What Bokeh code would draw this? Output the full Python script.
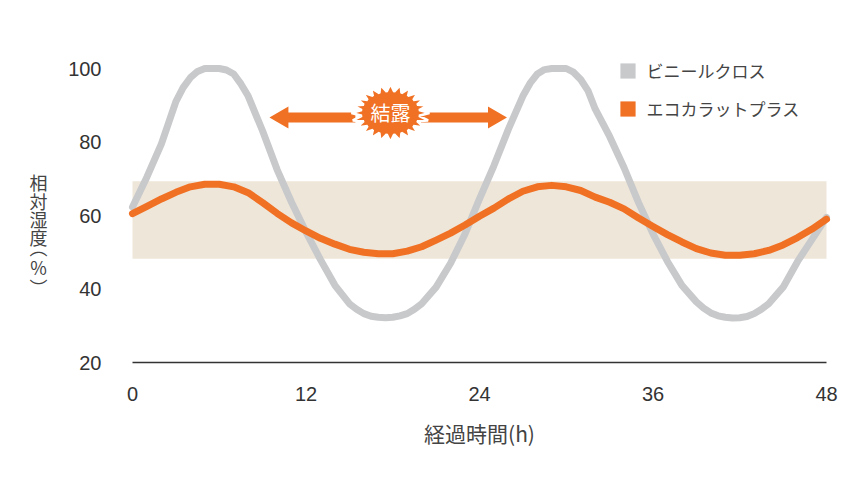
import math
from bokeh.plotting import figure
from bokeh.models import Range1d, FixedTicker, BoxAnnotation, Label, Legend, LegendItem
from bokeh.embed import file_html
from bokeh.resources import INLINE

# ---------------- data ----------------
vinyl_hours = [0, 1, 2, 3, 3.5, 4, 4.5, 5, 6, 6.5, 7, 7.5, 8, 9, 10, 11, 12, 13, 14,
               15, 15.5, 16, 16.5, 17, 17.5, 18, 18.5, 19, 19.5, 20, 21, 22, 23, 24,
               25, 26, 27, 27.5, 28, 28.5, 29, 30, 30.5, 31, 31.5, 32, 33, 34, 35,
               36, 37, 38, 39, 39.5, 40, 40.5, 41, 41.5, 42, 42.5, 43, 43.5, 44,
               45, 46, 47, 48]
vinyl_cloth = [62.3, 70.5, 79.5, 91.0, 94.8, 97.5, 99.2, 100.0, 100.0, 99.6, 98.5, 95.8, 92.5,
               83.0, 72.5, 63.6, 55.5, 48.0, 41.0,
               36.0, 34.5, 33.3, 32.6, 32.3, 32.2, 32.3, 32.7, 33.3, 34.5, 36.0,
               40.5, 47.0, 55.0, 64.5, 73.6, 83.5, 92.5, 96.0, 98.5, 99.7, 100.0,
               100.0, 99.0, 97.0, 94.0, 89.0, 81.5, 73.0, 63.5, 55.0, 47.5, 41.0,
               36.5, 34.8, 33.5, 32.7, 32.3, 32.1, 32.2, 32.5, 33.3, 34.5, 36.0,
               40.5, 47.5, 53.5, 59.5]
eco_hours = list(range(0, 49))
ecocarat_plus = [60.5, 62.5, 64.5, 66.3, 67.8, 68.5, 68.5, 67.8, 66.2, 63.5,
                 60.6, 58.0, 55.8, 53.8, 52.2, 50.8, 50.0, 49.6, 49.6, 50.3,
                 51.5, 53.3, 55.2, 57.4, 59.8, 62.0, 64.5, 66.6, 67.8, 68.2,
                 67.8, 66.8, 65.0, 63.6, 61.8, 59.3, 57.0, 54.8, 52.8, 51.0,
                 49.8, 49.2, 49.2, 49.6, 50.5, 52.0, 54.0, 56.3, 59.0]
series_names = ["ビニールクロス", "エコカラットプラス"]
x_ticks = [0, 12, 24, 36, 48]
y_ticks = [20, 40, 60, 80, 100]
comfort_low, comfort_high = 48.2, 69.3
callout_text = "結露"
x_title = "経過時間(h)"
y_title_chars = ["相", "対", "湿", "度", "︵", "%", "︶"]

# ---------------- styles / geometry ----------------
GRAY = "#c8c9cb"
ORANGE = "#f07124"
BAND = "#efe6da"
TXT = "#333333"
FONT_JP = "Noto Sans CJK JP"
FONT_NUM = "Liberation Sans"

PX_H = 694 / 48            # pixels per hour
PX_U = 294 / 80            # pixels per % RH
FRAME_L, FRAME_T, FRAME_W, FRAME_B = 20, 32, 825, 472
W, H = 850, 490
X0, X1 = -112 / PX_H, (FRAME_W - 112) / PX_H
Y0, Y1 = 20 - (FRAME_B - 362) / PX_U, 20 + (362 - FRAME_T) / PX_U

p = figure(width=W, height=H,
           x_range=Range1d(X0, X1), y_range=Range1d(Y0, Y1),
           output_backend="svg", toolbar_location=None,
           min_border_left=FRAME_L, min_border_right=W - FRAME_L - FRAME_W,
           min_border_top=FRAME_T, min_border_bottom=H - FRAME_B)
p.outline_line_color = None
p.xgrid.grid_line_color = None
p.ygrid.grid_line_color = None
p.background_fill_color = "white"
p.border_fill_color = "white"

xa = p.xaxis[0]
xa.ticker = FixedTicker(ticks=x_ticks)
xa.fixed_location = y_ticks[0]
xa.bounds = (x_ticks[0], x_ticks[-1])
xa.axis_line_color = "#333333"
xa.axis_line_width = 1.5
xa.major_tick_line_color = None
xa.minor_tick_line_color = None
xa.major_label_standoff = 18
xa.major_label_text_font = FONT_NUM
xa.major_label_text_font_size = "20px"
xa.major_label_text_color = TXT

ya = p.yaxis[0]
ya.ticker = FixedTicker(ticks=y_ticks)
ya.fixed_location = x_ticks[0]
ya.axis_line_color = None
ya.major_tick_line_color = None
ya.minor_tick_line_color = None
ya.major_label_standoff = 25
ya.major_label_text_font = FONT_NUM
ya.major_label_text_font_size = "20px"
ya.major_label_text_color = TXT

# comfort band
p.add_layout(BoxAnnotation(left=x_ticks[0], right=x_ticks[-1], bottom=comfort_low, top=comfort_high,
                           fill_color=BAND, fill_alpha=1.0, line_color=None, level="underlay"))

# series
p.line(vinyl_hours, vinyl_cloth, line_color=GRAY, line_width=7, line_cap="round", line_join="round")
p.line(eco_hours, ecocarat_plus, line_color=ORANGE, line_width=7, line_cap="round", line_join="round")

# legend swatches (dummy quads kept off-canvas, only their legend glyph shows)
off = Y0 - 50
r1 = p.quad(left=[X0], right=[X0 + 1], top=[off], bottom=[off - 1], fill_color=GRAY, line_color=None)
r2 = p.quad(left=[X0], right=[X0 + 1], top=[off], bottom=[off - 1], fill_color=ORANGE, line_color=None)
legend = Legend(items=[LegendItem(label=series_names[0], renderers=[r1]),
                       LegendItem(label=series_names[1], renderers=[r2])],
                location=(617.5 - FRAME_L, FRAME_B - 121), orientation="vertical",
                glyph_width=19, glyph_height=19, label_height=19, spacing=13,
                padding=0, margin=0, border_line_alpha=0, background_fill_alpha=0,
                label_standoff=10, label_text_font=FONT_JP,
                label_text_font_size="17px", label_text_color="#444444")
p.add_layout(legend)

# x-axis title, centred under the 0-48 h span
p.add_layout(Label(x=(x_ticks[0] + x_ticks[-1]) / 2, y=20 - (432 - 362) / PX_U, text=x_title,
                   text_align="center", text_baseline="middle", text_color="#444444",
                   text_font=FONT_JP, text_font_size="21px"))

# condensation callout: double arrow + starburst
burst_x, burst_y = 17.84, 87.9
arrow_y = 86.7
left_tip, right_tip = 9.47, 25.9

def arrow(tip, direction):
    pts = [(0, 0), (19, 11), (19, 5), (86, 5), (86, -5), (19, -5), (19, -11)]
    xs = [tip + direction * dx / PX_H for dx, dy in pts]
    ys = [arrow_y + dy / PX_U for dx, dy in pts]
    return xs, ys

for tip, d in [(left_tip, 1), (right_tip, -1)]:
    ax, ay = arrow(tip, d)
    p.patch(ax, ay, fill_color=ORANGE, line_color=None)

n_spikes = 24
bx, by = [], []
for i in range(2 * n_spikes):
    t = math.pi / 2 + i * math.pi / n_spikes
    f = 1.0 if i % 2 == 0 else 0.74
    bx.append(burst_x + f * 39 * math.cos(t) / PX_H)
    by.append(burst_y + f * 29 * math.sin(t) / PX_U)
p.patch(bx, by, fill_color=ORANGE, line_color="white", line_width=2.5)

p.add_layout(Label(x=burst_x, y=burst_y, text=callout_text, text_align="center",
                   text_baseline="middle", text_color="white", text_font=FONT_JP,
                   text_font_size="20px"))

# vertical y-axis title (stacked characters)
ylab_x = (38 - 132) / PX_H
ylab_px = [181, 200, 218.5, 236.5, 246, 266, 286]
for ch, py in zip(y_title_chars, ylab_px):
    p.add_layout(Label(x=ylab_x, y=20 + (362 - py) / PX_U, text=ch,
                       text_align="center", text_baseline="middle", text_color="#444444",
                       text_font=FONT_JP, text_font_size="18px"))

open("out.html", "w").write(file_html(p, INLINE))
